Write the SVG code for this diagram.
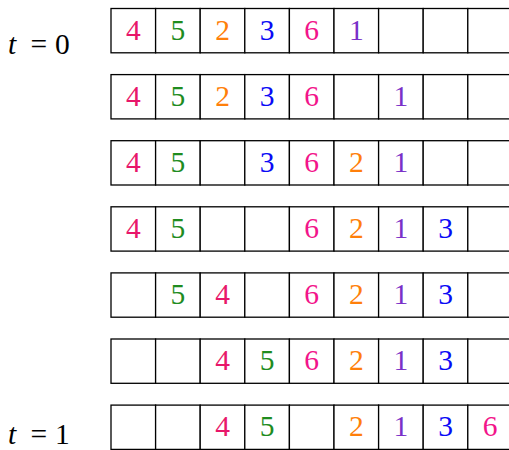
<svg xmlns="http://www.w3.org/2000/svg" width="509" height="450" viewBox="0 0 509 450">
<defs>
<style>
.cell{fill:#fff;stroke:#000;stroke-width:1.3}
.d{font-family:'Liberation Serif','Times New Roman',serif;font-size:29.5px;text-anchor:middle}
.lab{font-family:'Liberation Serif','Times New Roman',serif;font-size:29.5px;fill:#000}
.c4{fill:#E8176A}
.c5{fill:#1F8C1F}
.c2{fill:#FF7F0A}
.c3{fill:#0A0AF5}
.c6{fill:#F2148A}
.c1{fill:#7A30C8}
</style>
<g id="cells">
<rect class="cell" x="111" y="0" width="44.6" height="44.3"/>
<rect class="cell" x="155.6" y="0" width="44.6" height="44.3"/>
<rect class="cell" x="200.2" y="0" width="44.6" height="44.3"/>
<rect class="cell" x="244.8" y="0" width="44.6" height="44.3"/>
<rect class="cell" x="289.4" y="0" width="44.6" height="44.3"/>
<rect class="cell" x="334" y="0" width="44.6" height="44.3"/>
<rect class="cell" x="378.6" y="0" width="44.6" height="44.3"/>
<rect class="cell" x="423.2" y="0" width="44.6" height="44.3"/>
<rect class="cell" x="467.8" y="0" width="44.6" height="44.3"/>
</g>
</defs>
<rect width="509" height="450" fill="#fff"/>
<g id="label-t0" class="lab">
<text x="8" y="54" font-style="italic">t</text>
<text x="38.7" y="54" text-anchor="middle">=</text>
<text x="62.3" y="54" text-anchor="middle">0</text>
</g>
<g id="label-t1" class="lab">
<text x="8" y="443.5" font-style="italic">t</text>
<text x="38.7" y="443.5" text-anchor="middle">=</text>
<text x="62.3" y="443.5" text-anchor="middle">1</text>
</g>
<g id="row1" transform="translate(0,8.5)">
<use href="#cells"/>
<text class="d c4" x="133.3" y="31">4</text>
<text class="d c5" x="177.9" y="31">5</text>
<text class="d c2" x="222.5" y="31">2</text>
<text class="d c3" x="267.1" y="31">3</text>
<text class="d c6" x="311.7" y="31">6</text>
<text class="d c1" x="356.3" y="31">1</text>
</g>
<g id="row2" transform="translate(0,74.6)">
<use href="#cells"/>
<text class="d c4" x="133.3" y="31">4</text>
<text class="d c5" x="177.9" y="31">5</text>
<text class="d c2" x="222.5" y="31">2</text>
<text class="d c3" x="267.1" y="31">3</text>
<text class="d c6" x="311.7" y="31">6</text>
<text class="d c1" x="400.9" y="31">1</text>
</g>
<g id="row3" transform="translate(0,140.7)">
<use href="#cells"/>
<text class="d c4" x="133.3" y="31">4</text>
<text class="d c5" x="177.9" y="31">5</text>
<text class="d c3" x="267.1" y="31">3</text>
<text class="d c6" x="311.7" y="31">6</text>
<text class="d c2" x="356.3" y="31">2</text>
<text class="d c1" x="400.9" y="31">1</text>
</g>
<g id="row4" transform="translate(0,206.8)">
<use href="#cells"/>
<text class="d c4" x="133.3" y="31">4</text>
<text class="d c5" x="177.9" y="31">5</text>
<text class="d c6" x="311.7" y="31">6</text>
<text class="d c2" x="356.3" y="31">2</text>
<text class="d c1" x="400.9" y="31">1</text>
<text class="d c3" x="445.5" y="31">3</text>
</g>
<g id="row5" transform="translate(0,272.9)">
<use href="#cells"/>
<text class="d c5" x="177.9" y="31">5</text>
<text class="d c4" x="222.5" y="31">4</text>
<text class="d c6" x="311.7" y="31">6</text>
<text class="d c2" x="356.3" y="31">2</text>
<text class="d c1" x="400.9" y="31">1</text>
<text class="d c3" x="445.5" y="31">3</text>
</g>
<g id="row6" transform="translate(0,339)">
<use href="#cells"/>
<text class="d c4" x="222.5" y="31">4</text>
<text class="d c5" x="267.1" y="31">5</text>
<text class="d c6" x="311.7" y="31">6</text>
<text class="d c2" x="356.3" y="31">2</text>
<text class="d c1" x="400.9" y="31">1</text>
<text class="d c3" x="445.5" y="31">3</text>
</g>
<g id="row7" transform="translate(0,405.1)">
<use href="#cells"/>
<text class="d c4" x="222.5" y="31">4</text>
<text class="d c5" x="267.1" y="31">5</text>
<text class="d c2" x="356.3" y="31">2</text>
<text class="d c1" x="400.9" y="31">1</text>
<text class="d c3" x="445.5" y="31">3</text>
<text class="d c6" x="490.1" y="31">6</text>
</g>
</svg>
